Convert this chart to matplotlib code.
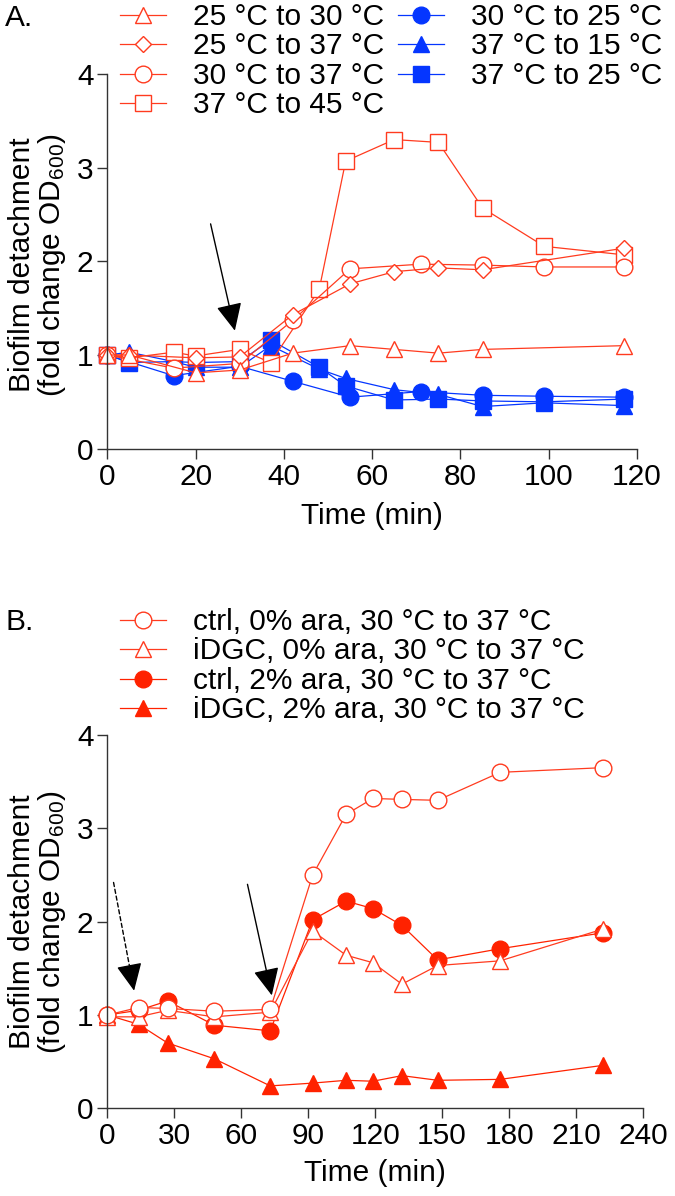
import matplotlib
matplotlib.use("Agg")
import matplotlib.pyplot as plt

plt.rcParams['font.family'] = ['Liberation Sans', 'DejaVu Sans']
plt.rcParams['mathtext.fontset'] = 'custom'
plt.rcParams['mathtext.rm'] = 'Liberation Sans'
plt.rcParams['mathtext.default'] = 'regular'

# Panel A data
t_25_30 = [0, 5, 20, 30, 42, 55, 65, 75, 85, 117]
v_25_30 = [1.0, 1.0, 0.81, 0.84, 1.02, 1.10, 1.06, 1.02, 1.06, 1.10]
t_25_37 = [0, 5, 20, 30, 42, 55, 65, 75, 85, 117]
v_25_37 = [1.0, 1.0, 0.97, 0.98, 1.43, 1.76, 1.89, 1.93, 1.91, 2.14]
t_30_37 = [0, 15, 30, 42, 55, 71, 85, 99, 117]
v_30_37 = [1.0, 0.86, 0.91, 1.37, 1.92, 1.97, 1.96, 1.94, 1.94]
t_37_45 = [0, 5, 15, 20, 30, 37, 48, 54, 65, 75, 85, 99, 117]
v_37_45 = [1.0, 0.97, 1.03, 0.99, 1.06, 0.92, 1.70, 3.07, 3.30, 3.27, 2.57, 2.16, 2.07]
t_30_25 = [0, 15, 30, 42, 55, 71, 85, 99, 117]
v_30_25 = [1.0, 0.78, 0.88, 0.72, 0.55, 0.61, 0.57, 0.56, 0.55]
t_37_15 = [0, 5, 15, 20, 30, 37, 48, 54, 65, 75, 85, 99, 117]
v_37_15 = [1.0, 1.03, 0.93, 0.87, 0.87, 1.10, 0.85, 0.75, 0.63, 0.58, 0.45, 0.49, 0.46]
t_37_25 = [0, 5, 15, 20, 30, 37, 48, 54, 65, 75, 85, 99, 117]
v_37_25 = [1.0, 0.92, 0.93, 0.92, 0.93, 1.16, 0.87, 0.67, 0.52, 0.53, 0.51, 0.50, 0.53]

# Panel B data
t_b = [0, 14, 27, 48, 73, 92, 107, 119, 132, 148, 176, 222]
ctrl_0 = [1.0, 1.08, 1.07, 1.04, 1.06, 2.50, 3.15, 3.32, 3.31, 3.30, 3.60, 3.65]
idgc_0 = [0.98, 0.98, 1.05, 0.98, 1.03, 1.90, 1.64, 1.56, 1.33, 1.53, 1.58, 1.92]
ctrl_2 = [1.0, 1.05, 1.15, 0.89, 0.83, 2.02, 2.22, 2.14, 1.96, 1.59, 1.71, 1.88]
idgc_2 = [1.0, 0.90, 0.70, 0.53, 0.24, 0.27, 0.30, 0.29, 0.35, 0.30, 0.31, 0.46]

red = '#FF3B1F'
red_fill = '#FF2200'
blue = '#0536FF'
fs = 21.5

W, H = 675, 1196
fig = plt.figure(figsize=(W / 100, H / 100), dpi=100)

arrow_kw = dict(arrowstyle='-|>,head_length=0.85,head_width=0.4',
                mutation_scale=20, color='black', lw=1.0, shrinkA=0, shrinkB=0)


def style_axes(ax):
    for s in ['top', 'right']:
        ax.spines[s].set_visible(False)
    for s in ['left', 'bottom']:
        ax.spines[s].set_color('#333333')
        ax.spines[s].set_linewidth(1.0)
    ax.tick_params(labelsize=fs, length=7, width=1.0, color='#333333', pad=3)


# ---------- Panel A ----------
axA = fig.add_axes([107.3 / W, 1 - 448.7 / H, (637 - 107.3) / W, (448.7 - 74) / H])
style_axes(axA)
kw_line = dict(lw=0.9, clip_on=False)
hA = {}
hA['30_25'], = axA.plot(t_30_25, v_30_25, marker='o', ms=12, color=blue, mfc=blue, mec=blue, **kw_line)
hA['37_15'], = axA.plot(t_37_15, v_37_15, marker='^', ms=12, color=blue, mfc=blue, mec=blue, **kw_line)
hA['37_25'], = axA.plot(t_37_25, v_37_25, marker='s', ms=12, color=blue, mfc=blue, mec=blue, **kw_line)
hA['37_45'], = axA.plot(t_37_45, v_37_45, marker='s', ms=12, color=red, mfc='white', mec=red, **kw_line)
hA['30_37'], = axA.plot(t_30_37, v_30_37, marker='o', ms=12, color=red, mfc='white', mec=red, **kw_line)
hA['25_37'], = axA.plot(t_25_37, v_25_37, marker='D', ms=8.5, color=red, mfc='white', mec=red, **kw_line)
hA['25_30'], = axA.plot(t_25_30, v_25_30, marker='^', ms=12, color=red, mfc='white', mec=red, **kw_line)

axA.set_xlim(0, 120)
axA.set_ylim(0, 4)
axA.set_xticks([0, 20, 40, 60, 80, 100, 120])
axA.set_yticks([0, 1, 2, 3, 4])
axA.set_xlabel('Time (min)', fontsize=fs, labelpad=8)

axA.annotate('', xy=(28.9, 1.26), xytext=(23.4, 2.40), arrowprops=arrow_kw)

handlesA = [hA['25_30'], hA['25_37'], hA['30_37'], hA['37_45'],
            hA['30_25'], hA['37_15'], hA['37_25']]
labelsA = ['25 °C to 30 °C', '25 °C to 37 °C', '30 °C to 37 °C', '37 °C to 45 °C',
           '30 °C to 25 °C', '37 °C to 15 °C', '37 °C to 25 °C']
fig.legend(handlesA, labelsA, ncol=2, loc='upper left',
           bbox_to_anchor=(120 / W, 1 - 3 / H), frameon=False, fontsize=fs,
           borderpad=0, borderaxespad=0, handlelength=1.55, handletextpad=0.9,
           labelspacing=0.05, columnspacing=0.45)

fig.text(5 / W, 1 - 18 / H, 'A.', fontsize=fs, ha='left', va='center')
fig.text(38 / W, 1 - 265 / H, 'Biofilm detachment\n(fold change OD$_{600}$)',
         fontsize=fs, rotation=90, ha='center', va='center', linespacing=1.0)

# ---------- Panel B ----------
axB = fig.add_axes([107.3 / W, 1 - 1108.3 / H, (643 - 107.3) / W, (1108.3 - 735) / H])
style_axes(axB)
hB4, = axB.plot(t_b, idgc_2, marker='^', ms=12, color=red_fill, mfc=red_fill, mec=red_fill, **kw_line)
hB3, = axB.plot(t_b, ctrl_2, marker='o', ms=12, color=red_fill, mfc=red_fill, mec=red_fill, **kw_line)
hB2, = axB.plot(t_b, idgc_0, marker='^', ms=12, color=red, mfc='white', mec=red, **kw_line)
hB1, = axB.plot(t_b, ctrl_0, marker='o', ms=12, color=red, mfc='white', mec=red, **kw_line)

axB.set_xlim(0, 240)
axB.set_ylim(0, 4)
axB.set_xticks(list(range(0, 241, 30)))
axB.set_yticks([0, 1, 2, 3, 4])
axB.set_xlabel('Time (min)', fontsize=fs, labelpad=6)

# dashed shaft + solid head for the first arrow
axB.annotate('', xy=(10.6, 1.44), xytext=(2.8, 2.42),
             arrowprops=dict(arrowstyle='-', color='black', lw=1.0,
                             linestyle=(0, (3, 2)), shrinkA=0, shrinkB=0))
axB.annotate('', xy=(12, 1.26), xytext=(10.4, 1.46), arrowprops=arrow_kw)
axB.annotate('', xy=(73.7, 1.21), xytext=(62.8, 2.40), arrowprops=arrow_kw)

fig.legend([hB1, hB2, hB3, hB4],
           ['ctrl, 0% ara, 30 °C to 37 °C', 'iDGC, 0% ara, 30 °C to 37 °C',
            'ctrl, 2% ara, 30 °C to 37 °C', 'iDGC, 2% ara, 30 °C to 37 °C'],
           loc='upper left', bbox_to_anchor=(120 / W, 1 - 608 / H), frameon=False,
           fontsize=fs, borderpad=0, borderaxespad=0, handlelength=1.55,
           handletextpad=0.9, labelspacing=0.05)

fig.text(5 / W, 1 - 622 / H, 'B.', fontsize=fs, ha='left', va='center')
fig.text(38 / W, 1 - 922 / H, 'Biofilm detachment\n(fold change OD$_{600}$)',
         fontsize=fs, rotation=90, ha='center', va='center', linespacing=1.0)

fig.savefig('out.png', dpi=100)
